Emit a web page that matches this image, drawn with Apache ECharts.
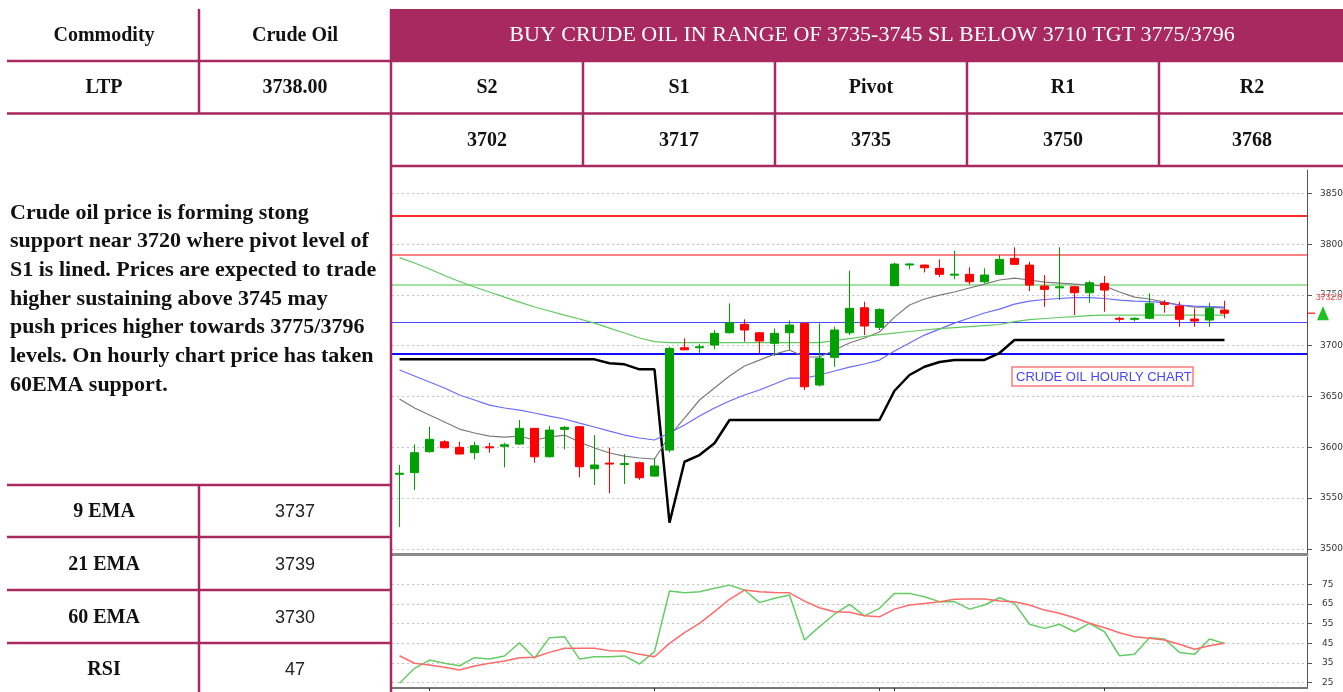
<!DOCTYPE html>
<html>
<head>
<meta charset="utf-8">
<script src="https://cdn.jsdelivr.net/npm/echarts@6/dist/echarts.min.js"></script>
<style>
html, body { margin: 0; padding: 0; background: #fff; }
#main { width: 1343px; height: 692px; }
</style>
</head>
<body>
<div id="main"></div>
<script>
// hourly candles (oldest first)
var opens  = [3573.5,3575.1,3595.7,3605.5,3600,3594.7,3600.5,3601,3603.2,3618.7,3590.7,3617.7,3620.3,3578.9,3584.5,3583,3584.8,3571.7,3597.3,3698,3698,3700.7,3712.8,3721.1,3712.8,3702.4,3712.8,3722,3661.3,3688.6,3712.8,3737.4,3718.1,3759.1,3779.5,3779.4,3776.2,3769.5,3770.3,3763,3770.3,3786,3779.4,3758.8,3757,3758.1,3752.2,3761.4,3727,3726,3727,3742.3,3739.1,3726.3,3725.3,3735.1];
var closes = [3574.5,3594.7,3607.9,3599.6,3593.4,3601.6,3599.5,3602.5,3618.7,3590.7,3617,3619.7,3580.9,3582.6,3583.5,3584,3570.1,3581.6,3697.4,3696,3699,3712.2,3722.6,3715.5,3704.6,3712.2,3720.4,3659.6,3687.6,3715.5,3736.8,3719.4,3735.8,3780.4,3780.5,3776.8,3770.3,3770.5,3763,3769.6,3785,3780.1,3759.7,3755.5,3758,3752.2,3762,3754.8,3726,3727,3741.7,3740.7,3726,3724.3,3736.8,3732];
var lows   = [3521.6,3558,3594.7,3599,3593,3588.2,3594.7,3580.3,3602.3,3584.8,3590,3598,3570.5,3562.9,3554.7,3563.9,3568,3571,3595,3695.8,3693,3696.5,3712,3704,3692.5,3689.9,3695.8,3656.4,3660,3679.3,3710.5,3710.5,3715.5,3759,3775.2,3772.2,3767.9,3765.4,3760.4,3761.4,3769.6,3779.4,3753.8,3738.4,3745,3730.2,3742.3,3733.5,3723.6,3724,3726,3732.5,3718.7,3718.7,3718.7,3727];
var highs  = [3582.6,3603,3620.3,3607,3605.5,3605.5,3604.5,3604.5,3626.9,3619,3621,3621,3621,3612.1,3599.6,3593.4,3586,3589.2,3699,3707.3,3701.7,3715.5,3741.7,3726,3713,3717,3725,3722,3722,3718.7,3773.8,3743.3,3736.8,3781.7,3781,3780,3785,3793.5,3777.2,3776.2,3789.3,3796.9,3782.7,3769.6,3796.9,3759,3764,3768.6,3728.5,3728,3751.6,3745,3743.3,3736.8,3742.3,3744.3];

var ema9  = [3647.5,3638.7,3631.8,3624.9,3618,3614.1,3611.1,3610.1,3611.1,3607.2,3610.1,3612.1,3605.2,3599.3,3594.4,3591.4,3589.5,3588.5,3611.3,3628.8,3646.6,3658.4,3670.2,3680,3685.9,3691.8,3695.8,3688.9,3688.9,3695.8,3702.7,3707.6,3713.5,3728.2,3740.1,3746,3749.9,3752.9,3756.8,3760.7,3764.7,3766.6,3764.7,3762.7,3761.7,3760.7,3759.7,3758.8,3752.9,3747.9,3746,3743,3740.1,3738.1,3738.1,3737.1];
var ema21 = [3676.1,3670.2,3664.3,3658.4,3651.5,3646.6,3641.6,3638.7,3636.7,3633.8,3630.8,3627.9,3623.9,3620,3616,3612.1,3609.2,3607.2,3614.1,3622,3630.8,3638.7,3645.6,3651.5,3656.4,3662.3,3668.2,3668.2,3671.2,3675.1,3679,3682,3685.9,3694.8,3702.7,3710.5,3716.4,3722.3,3727.3,3732.2,3736.1,3741,3744,3745.5,3746.5,3747.4,3747.4,3746.5,3745,3744,3743.5,3742.5,3740.1,3739.1,3738.6,3738.1];
var ema60 = [3786.8,3781.4,3775.5,3769.1,3763.2,3757.8,3752.9,3747.9,3743,3738.1,3734.2,3730.2,3726.3,3722.3,3717.4,3712.5,3707.6,3704.1,3703.1,3703.1,3703.1,3703.1,3703.1,3703.1,3703.1,3703.1,3703.1,3703.1,3703.1,3705.1,3707.1,3709.1,3711,3712.5,3714,3715.5,3716.9,3717.9,3718.9,3719.9,3720.9,3723.8,3725.8,3726.8,3727.8,3728.7,3729.7,3730.2,3730.2,3730.2,3730.2,3730.2,3730.2,3730.2,3730.2,3730.2];
var stopLine = [3686.6,3686.6,3686.6,3686.6,3686.6,3686.6,3686.6,3686.6,3686.6,3686.6,3686.6,3686.6,3686.6,3686.6,3682.7,3681.7,3676.8,3676.8,3525.8,3585.8,3592.4,3604,3626.9,3626.9,3626.9,3626.9,3626.9,3626.9,3626.9,3626.9,3626.9,3626.9,3626.9,3655.7,3671.2,3679.3,3684,3686,3686,3686,3692.8,3705.6,3705.6,3705.6,3705.6,3705.6,3705.6,3705.6,3705.6,3705.6,3705.6,3705.6,3705.6,3705.6,3705.6,3705.6];

var rsi       = [24.7,32.3,36.5,34.9,33.6,37.7,37,38.6,45.3,37.4,47.9,48.4,37,38.2,38.2,38.6,34.5,40.8,71.6,70.7,71.2,73,74.6,72.1,65.7,67.9,69.6,46.7,53.5,59.8,64.8,59,62.8,70.4,70.4,68.7,66.2,66.2,62.4,64.5,68.2,65.3,54.7,52.6,54.7,50.9,55.2,50.9,38.7,39.4,47.9,47.2,40.4,39.4,47.2,45];
var rsiSignal = [38.7,34.9,34,32.8,31.5,33.5,34.9,36,37.7,37.9,40.4,42.5,42.5,42.5,41.3,41.1,39.4,38.2,45,50.4,55.2,61.1,67.4,72.1,71.2,70.9,70.7,66.5,63.1,61.1,60.8,59,58.5,62.4,64.5,65.3,66.2,67.4,67.5,67.5,66.5,66.2,64.5,61.9,60.3,58,55.2,52.9,50.4,48.4,47.6,46.7,44.5,42,43.8,45];

// horizontal levels drawn across the price panel
var levelLines  = [3828, 3790, 3760, 3723, 3692];
var levelColors = ['#ff2a2a', '#ff8080', '#86d986', '#4a4aff', '#1010ff'];
var levelWidths = [2, 2, 1.5, 1.2, 2];

var priceTicks = [3500, 3550, 3600, 3650, 3700, 3750, 3800, 3850];
var rsiTicks = [25, 35, 45, 55, 65, 75];
var dayTicks = [2, 17, 32, 33, 47];

// table texts
var headline = 'BUY CRUDE OIL IN RANGE OF 3735-3745 SL BELOW 3710 TGT 3775/3796';
var pivotNames = ['S2', 'S1', 'Pivot', 'R1', 'R2'];
var pivotValues = ['3702', '3717', '3735', '3750', '3768'];
var statNames = ['9 EMA', '21 EMA', '60 EMA', 'RSI'];
var statValues = ['3737', '3739', '3730', '47'];
var comment = [
  'Crude oil price is forming stong',
  'support near 3720 where pivot level of',
  'S1 is lined. Prices are expected to trade',
  'higher sustaining above 3745 may',
  'push prices higher towards 3775/3796',
  'levels. On hourly chart price has taken',
  '60EMA support.'
];

var slots = 61;
var hours = [];
for (var i = 0; i < slots; i++) hours.push('H' + (i + 1));

var candles = opens.map(function (o, k) { return [o, closes[k], lows[k], highs[k]]; });

var maroon = '#a8295f';
var serifB = 'bold 20px "Liberation Serif"';

function txt(x, y, s, font, color, align) {
  return { type: 'text', z: 100, silent: true,
    style: { x: x, y: y, text: s, font: font, fill: color || '#111', align: align || 'center', verticalAlign: 'middle' } };
}
function ln(x1, y1, x2, y2) {
  return { type: 'line', z: 101, silent: true, shape: { x1: x1, y1: y1, x2: x2, y2: y2 },
    style: { stroke: maroon, lineWidth: 2.5 } };
}

var graphics = [];
graphics.push({ type: 'rect', z: 99, shape: { x: 390, y: 9, width: 953, height: 52 }, style: { fill: maroon } });
graphics.push(ln(7, 61, 1343, 61), ln(7, 113.5, 1343, 113.5), ln(390, 166, 1343, 166));
graphics.push(ln(199, 9, 199, 113.5), ln(391, 9, 391, 692));
[583, 775, 967, 1159].forEach(function (x) { graphics.push(ln(x, 61, x, 166)); });
[485, 537, 590, 643].forEach(function (y) { graphics.push(ln(7, y, 391, y)); });
graphics.push(ln(199, 485, 199, 692));

graphics.push(txt(104, 36, 'Commodity', serifB));
graphics.push(txt(295, 36, 'Crude Oil', serifB));
graphics.push(txt(872, 35, headline, '22px "Liberation Serif"', '#ffffff'));
graphics.push(txt(104, 88, 'LTP', serifB));
graphics.push(txt(295, 88, '3738.00', serifB));
var colCenters = [487, 679, 871, 1063, 1252];
pivotNames.forEach(function (n, k) {
  graphics.push(txt(colCenters[k], 88, n, serifB));
  graphics.push(txt(colCenters[k], 141, pivotValues[k], serifB));
});
var rowCenters = [512, 565, 618, 670];
statNames.forEach(function (n, k) {
  graphics.push(txt(104, rowCenters[k], n, serifB));
  graphics.push(txt(295, rowCenters[k], statValues[k], '18px "Liberation Sans"', '#222'));
});
comment.forEach(function (s, k) {
  graphics.push(txt(10, 213 + k * 28.7, s, 'bold 22px "Liberation Serif"', '#111', 'left'));
});

// chart caption box
graphics.push({ type: 'rect', z: 50, shape: { x: 1012, y: 367, width: 181, height: 19 },
  style: { fill: '#fff', stroke: '#ff7b7b', lineWidth: 1.5 } });
graphics.push(txt(1016, 377, 'CRUDE OIL HOURLY CHART', '13px "Liberation Sans"', '#4646ff', 'left'));

var dotted = { color: '#c4c4c4', type: [2, 3], width: 1 };
function plain(v) { return String(v); }

var chart = echarts.init(document.getElementById('main'));
var option = {
  animation: false,
  backgroundColor: '#fff',
  grid: [
    { left: 392, right: 36, top: 170, bottom: 138, outerBoundsMode: 'none' },
    { left: 392, right: 36, top: 557, bottom: 4, outerBoundsMode: 'none' }
  ],
  xAxis: [
    { type: 'category', gridIndex: 0, data: hours, boundaryGap: true,
      axisLine: { show: true, lineStyle: { color: '#8a8a8a', width: 3 } },
      axisTick: { show: false }, axisLabel: { show: false }, splitLine: { show: false } },
    { type: 'category', gridIndex: 1, data: hours, boundaryGap: true,
      axisLine: { show: true, lineStyle: { color: '#777', width: 2 } },
      axisTick: { show: true, alignWithLabel: true, length: 3, lineStyle: { color: '#333' },
        interval: function (idx) { return dayTicks.indexOf(idx) >= 0; } },
      axisLabel: { show: false }, splitLine: { show: false } }
  ],
  yAxis: [
    { type: 'value', gridIndex: 0, position: 'right', min: 3495, max: 3873, scale: true,
      axisLine: { show: true, lineStyle: { color: '#555' } },
      axisTick: { show: true, customValues: priceTicks, length: 5, lineStyle: { color: '#555' } },
      axisLabel: { customValues: priceTicks, margin: 13, formatter: plain, color: '#333', fontSize: 9, fontFamily: 'DejaVu Sans' },
      splitLine: { show: true, lineStyle: dotted } },
    { type: 'value', gridIndex: 1, position: 'right', min: 22.3, max: 88.9,
      axisLine: { show: true, lineStyle: { color: '#555' } },
      axisTick: { show: true, customValues: rsiTicks, length: 5, lineStyle: { color: '#555' } },
      axisLabel: { customValues: rsiTicks, margin: 15, formatter: plain, color: '#333', fontSize: 9, fontFamily: 'DejaVu Sans' },
      splitLine: { show: true, lineStyle: dotted } }
  ],
  series: [
    { type: 'candlestick', name: 'Crude Oil', xAxisIndex: 0, yAxisIndex: 0, data: candles, barWidth: 9, z: 5,
      itemStyle: { color: '#00a000', color0: '#ff0000', borderColor: '#00a000', borderColor0: '#ff0000', borderWidth: 1 },
      markLine: { silent: true, symbol: ['none', 'none'], label: { show: false }, z: 3,
        data: levelLines.map(function (v, k) {
          return { yAxis: v, lineStyle: { color: levelColors[k], width: levelWidths[k], type: 'solid' } };
        }) } },
    { type: 'line', name: 'Stop', xAxisIndex: 0, yAxisIndex: 0, data: stopLine, symbol: 'none', z: 4,
      lineStyle: { color: '#000', width: 2.5 } },
    { type: 'line', name: '9 EMA', xAxisIndex: 0, yAxisIndex: 0, data: ema9, symbol: 'none', z: 4,
      lineStyle: { color: '#7a7a7a', width: 1.2 } },
    { type: 'line', name: '21 EMA', xAxisIndex: 0, yAxisIndex: 0, data: ema21, symbol: 'none', z: 4,
      lineStyle: { color: '#6a6aff', width: 1.2 } },
    { type: 'line', name: '60 EMA', xAxisIndex: 0, yAxisIndex: 0, data: ema60, symbol: 'none', z: 4,
      lineStyle: { color: '#5fc95f', width: 1.2 } },
    { type: 'line', name: 'RSI', xAxisIndex: 1, yAxisIndex: 1, data: rsi, symbol: 'none',
      lineStyle: { color: '#66cc66', width: 1.5 } },
    { type: 'line', name: 'RSI signal', xAxisIndex: 1, yAxisIndex: 1, data: rsiSignal, symbol: 'none',
      lineStyle: { color: '#ff6a6a', width: 1.5 } }
  ],
  graphic: graphics
};
chart.setOption(option);

// last price marker on the right scale
var lastClose = closes[closes.length - 1];
var py = chart.convertToPixel({ yAxisIndex: 0 }, lastClose);
var marker = [
  { type: 'line', z: 60, shape: { x1: 1308, y1: py, x2: 1315, y2: py }, style: { stroke: '#ff4040', lineWidth: 1.5 } },
  { type: 'polygon', z: 60, shape: { points: [[1317, py + 7], [1329, py + 7], [1323, py - 7]] }, style: { fill: '#22c022' } },
  { type: 'rect', z: 59, shape: { x: 1315, y: py - 22, width: 28, height: 11 }, style: { fill: 'rgba(255,255,255,0.35)' } },
  txt(1316, py - 16, lastClose.toFixed(1), '8.5px "Liberation Sans"', '#ff3030', 'left')
];
chart.setOption({ graphic: graphics.concat(marker) });
</script>
</body>
</html>
